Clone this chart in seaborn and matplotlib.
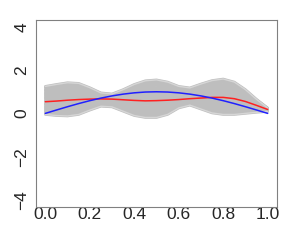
import numpy as np
import pandas as pd
import matplotlib
matplotlib.use("Agg")
import matplotlib.pyplot as plt
import seaborn as sns

# Evaluation grid (t in [0, 1])
t_grid = [0.00, 0.05, 0.10, 0.15, 0.20, 0.25, 0.30, 0.35, 0.40, 0.45, 0.50,
          0.55, 0.60, 0.65, 0.70, 0.75, 0.80, 0.85, 0.90, 0.95, 1.00]

# True function (blue)
true_curve = [0.000, 0.156, 0.309, 0.454, 0.588, 0.707, 0.809, 0.891, 0.951, 0.988, 1.000,
              0.988, 0.951, 0.891, 0.809, 0.707, 0.588, 0.454, 0.309, 0.156, 0.000]

# Estimated function (red)
est_curve = [0.54, 0.57, 0.61, 0.64, 0.66, 0.67, 0.66, 0.63, 0.60, 0.58, 0.59,
             0.61, 0.64, 0.68, 0.71, 0.74, 0.74, 0.68, 0.55, 0.37, 0.18]

# Sample curves (grey)
sample_curves = [
    [1.25, 1.34, 1.42, 1.39, 1.19, 0.95, 0.90, 1.10, 1.34, 1.51, 1.55, 1.45, 1.25, 1.18, 1.36, 1.52, 1.59, 1.45, 1.10, 0.65, 0.25],
    [1.19, 1.27, 1.34, 1.32, 1.14, 0.92, 0.87, 1.05, 1.27, 1.43, 1.46, 1.38, 1.20, 1.14, 1.30, 1.45, 1.51, 1.38, 1.05, 0.62, 0.24],
    [1.12, 1.20, 1.27, 1.25, 1.09, 0.89, 0.84, 1.00, 1.20, 1.34, 1.38, 1.30, 1.15, 1.10, 1.24, 1.37, 1.43, 1.30, 0.99, 0.59, 0.23],
    [1.06, 1.12, 1.19, 1.17, 1.03, 0.86, 0.81, 0.95, 1.12, 1.26, 1.29, 1.23, 1.10, 1.06, 1.19, 1.30, 1.34, 1.23, 0.94, 0.56, 0.23],
    [0.99, 1.05, 1.11, 1.10, 0.98, 0.83, 0.78, 0.90, 1.05, 1.17, 1.20, 1.15, 1.05, 1.02, 1.13, 1.22, 1.26, 1.15, 0.88, 0.53, 0.22],
    [0.93, 0.98, 1.04, 1.03, 0.93, 0.80, 0.75, 0.85, 0.98, 1.09, 1.12, 1.08, 1.00, 0.98, 1.07, 1.15, 1.18, 1.08, 0.83, 0.50, 0.21],
    [0.86, 0.91, 0.96, 0.96, 0.88, 0.76, 0.72, 0.80, 0.91, 1.00, 1.03, 1.00, 0.95, 0.94, 1.01, 1.07, 1.10, 1.00, 0.77, 0.47, 0.20],
    [0.80, 0.84, 0.88, 0.89, 0.83, 0.73, 0.69, 0.75, 0.84, 0.92, 0.94, 0.93, 0.90, 0.90, 0.95, 1.00, 1.02, 0.93, 0.72, 0.44, 0.19],
    [0.73, 0.76, 0.80, 0.81, 0.77, 0.70, 0.66, 0.70, 0.76, 0.83, 0.85, 0.85, 0.85, 0.86, 0.90, 0.92, 0.93, 0.85, 0.66, 0.41, 0.19],
    [0.67, 0.69, 0.73, 0.74, 0.72, 0.67, 0.63, 0.65, 0.69, 0.75, 0.77, 0.78, 0.80, 0.82, 0.84, 0.85, 0.85, 0.78, 0.61, 0.38, 0.18],
    [0.60, 0.62, 0.65, 0.67, 0.67, 0.64, 0.60, 0.60, 0.62, 0.66, 0.68, 0.70, 0.75, 0.78, 0.78, 0.77, 0.77, 0.70, 0.55, 0.35, 0.17],
    [0.54, 0.55, 0.57, 0.60, 0.62, 0.61, 0.57, 0.55, 0.55, 0.58, 0.59, 0.63, 0.70, 0.74, 0.72, 0.70, 0.69, 0.63, 0.50, 0.32, 0.16],
    [0.47, 0.48, 0.50, 0.53, 0.57, 0.58, 0.54, 0.50, 0.48, 0.49, 0.51, 0.55, 0.65, 0.70, 0.66, 0.62, 0.61, 0.55, 0.44, 0.29, 0.15],
    [0.41, 0.40, 0.42, 0.45, 0.51, 0.55, 0.51, 0.45, 0.40, 0.41, 0.42, 0.48, 0.60, 0.66, 0.61, 0.55, 0.52, 0.48, 0.39, 0.26, 0.15],
    [0.34, 0.33, 0.34, 0.38, 0.46, 0.52, 0.48, 0.40, 0.33, 0.32, 0.33, 0.40, 0.55, 0.62, 0.55, 0.47, 0.44, 0.40, 0.33, 0.23, 0.14],
    [0.28, 0.26, 0.27, 0.31, 0.41, 0.49, 0.45, 0.35, 0.26, 0.24, 0.25, 0.33, 0.50, 0.58, 0.49, 0.40, 0.36, 0.33, 0.28, 0.20, 0.13],
    [0.21, 0.19, 0.19, 0.24, 0.36, 0.45, 0.42, 0.30, 0.19, 0.15, 0.16, 0.25, 0.45, 0.54, 0.43, 0.32, 0.28, 0.25, 0.22, 0.17, 0.12],
    [0.15, 0.12, 0.11, 0.17, 0.31, 0.42, 0.39, 0.25, 0.12, 0.07, 0.07, 0.18, 0.40, 0.50, 0.37, 0.25, 0.20, 0.18, 0.17, 0.14, 0.11],
    [0.08, 0.04, 0.03, 0.09, 0.25, 0.39, 0.36, 0.20, 0.04, -0.02, -0.02, 0.10, 0.35, 0.46, 0.32, 0.17, 0.11, 0.10, 0.11, 0.11, 0.11],
    [0.02, -0.03, -0.04, 0.02, 0.20, 0.36, 0.33, 0.15, -0.03, -0.10, -0.10, 0.03, 0.30, 0.42, 0.26, 0.10, 0.03, 0.03, 0.06, 0.08, 0.10],
    [-0.05, -0.10, -0.12, -0.05, 0.15, 0.33, 0.30, 0.10, -0.10, -0.19, -0.19, -0.05, 0.25, 0.38, 0.20, 0.02, -0.05, -0.05, 0.00, 0.05, 0.09],
]

x_ticks = [0.0, 0.2, 0.4, 0.6, 0.8, 1.0]
y_ticks = [-4, -2, 0, 2, 4]

sns.set_style("white")
plt.rcParams["font.family"] = ["Liberation Sans Narrow", "Liberation Sans", "DejaVu Sans"]

# long format for the grey sample curves
rows = []
for i, vals in enumerate(sample_curves):
    for t, v in zip(t_grid, vals):
        rows.append({"curve": i, "t": t, "value": v})
df = pd.DataFrame(rows)

fig = plt.figure(figsize=(2.89, 2.41), dpi=100)
ax = fig.add_axes([0.126, 0.142, 0.831, 0.775])

sns.lineplot(data=df, x="t", y="value", units="curve", estimator=None,
             color="#BEBEBE", linewidth=1.9, ax=ax, legend=False)
# light outer curves
sns.lineplot(x=t_grid, y=sample_curves[0], color="#D6D6D6", linewidth=1.0, ax=ax)
sns.lineplot(x=t_grid, y=sample_curves[-1], color="#D6D6D6", linewidth=1.0, ax=ax)
sns.lineplot(x=t_grid, y=est_curve, color="#FF2020", linewidth=1.1, ax=ax)
sns.lineplot(x=t_grid, y=true_curve, color="#2020FF", linewidth=1.1, ax=ax)

ax.set_xlim(-0.04, 1.04)
ax.set_ylim(-4.32, 4.32)
ax.set_xticks(x_ticks)
ax.set_xticklabels([f"{v:.1f}" for v in x_ticks])
ax.set_yticks(y_ticks)
ax.set_yticklabels([str(v).replace("-", "\u2212") for v in y_ticks], rotation=90, va="center")
ax.set_xlabel("")
ax.set_ylabel("")

for sp in ax.spines.values():
    sp.set_color("#808080")
    sp.set_linewidth(0.8)

ax.tick_params(axis="x", length=3.2, width=0.8, pad=-3.0, color="#555555", labelsize=12.5)
ax.tick_params(axis="y", length=2.9, width=0.8, pad=2.0, color="#555555", labelsize=12.5)

fig.savefig("out.png", dpi=100)
